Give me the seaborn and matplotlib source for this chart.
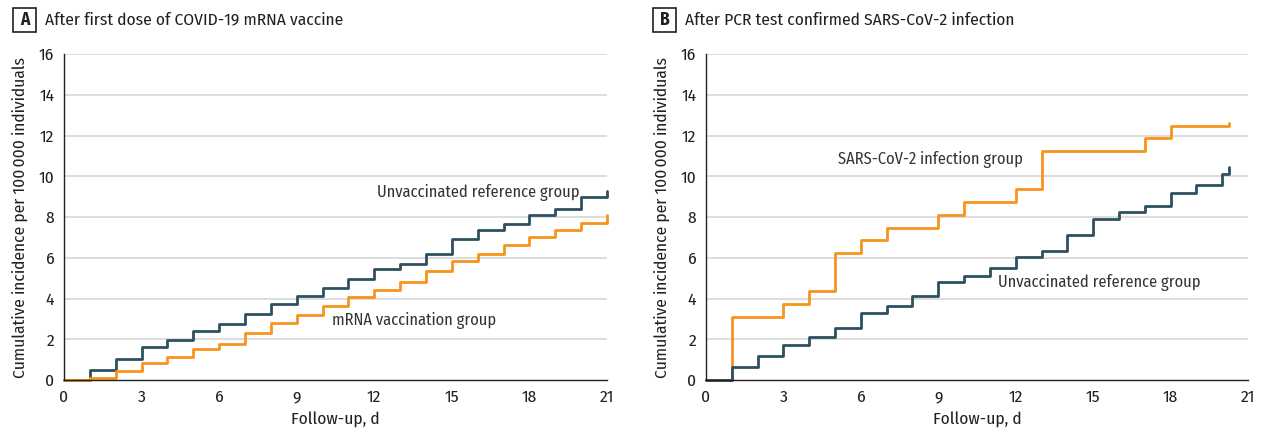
import pandas as pd
import seaborn as sns
import matplotlib.pyplot as plt

# Colours
DARK = "#2d5160"
ORANGE = "#f7941d"
TEXT = "#231f20"

# Panel A: after first dose of mRNA vaccine (step at each day)
days_a = list(range(0, 22))
unvacc_a = [0, 0.49, 1.03, 1.60, 1.98, 2.40, 2.76, 3.22, 3.74, 4.13, 4.51,
            4.98, 5.45, 5.70, 6.17, 6.91, 7.36, 7.66, 8.08, 8.39, 8.98, 9.27]
mrna_a = [0, 0.08, 0.42, 0.82, 1.14, 1.50, 1.78, 2.30, 2.79, 3.20, 3.61,
          4.08, 4.44, 4.82, 5.34, 5.83, 6.20, 6.64, 7.02, 7.36, 7.72, 8.11]

# Panel B: after PCR confirmed infection
days_b = list(range(0, 21)) + [20.25]
infect_b = [0, 3.10, 3.10, 3.74, 4.36, 6.23, 6.85, 7.47, 7.47, 8.09, 8.73,
            8.73, 9.35, 11.23, 11.23, 11.23, 11.23, 11.86, 12.48, 12.48, 12.48, 12.62]
unvacc_b = [0, 0.65, 1.16, 1.72, 2.11, 2.57, 3.30, 3.61, 4.10, 4.82, 5.08,
            5.52, 6.06, 6.34, 7.12, 7.89, 8.24, 8.56, 9.17, 9.56, 10.11, 10.44]

x_ticks = [0, 3, 6, 9, 12, 15, 18, 21]
y_ticks = [0, 2, 4, 6, 8, 10, 12, 14, 16]

sns.set_style("white")
plt.rcParams["font.family"] = ["Fira Sans Condensed", "Asap Condensed", "Lato", "DejaVu Sans"]

W, H = 1262, 432
fig = plt.figure(figsize=(W / 100, H / 100), dpi=100)
ax_a = fig.add_axes([64 / W, 1 - 380 / H, 543 / W, 326 / H])
ax_b = fig.add_axes([706 / W, 1 - 380 / H, 542 / W, 326 / H])


def style_axis(ax):
    ax.set_xlim(0, 21)
    ax.set_ylim(0, 16)
    ax.set_xticks(x_ticks)
    ax.set_yticks(y_ticks)
    for y in y_ticks[1:]:
        ax.axhline(y, color="#dadada", lw=1.3, zorder=0)
    for side in ["top", "right"]:
        ax.spines[side].set_visible(False)
    for side in ["left", "bottom"]:
        ax.spines[side].set_color(TEXT)
        ax.spines[side].set_linewidth(1.0)
    ax.tick_params(axis="both", direction="out", length=4, width=1,
                   color=TEXT, labelsize=12.5, labelcolor=TEXT, pad=3)
    ax.set_xlabel("Follow-up, d", fontsize=12.5, color=TEXT)
    ax.set_ylabel("Cumulative incidence per 100\u2009000 individuals",
                  fontsize=12.5, color=TEXT)
    ax.xaxis.set_label_coords(0.5, -0.095)
    ax.yaxis.set_label_coords(-0.066, 0.5)


df_a = pd.DataFrame({"day": days_a + days_a,
                     "value": unvacc_a + mrna_a,
                     "group": ["Unvaccinated"] * len(days_a) + ["mRNA"] * len(days_a)})
sns.lineplot(data=df_a, x="day", y="value", hue="group",
             palette={"Unvaccinated": DARK, "mRNA": ORANGE},
             drawstyle="steps-post", lw=2, legend=False, ax=ax_a, clip_on=False)
style_axis(ax_a)
ax_a.text(12.1, 9.2, "Unvaccinated reference group", fontsize=11.8,
          color="#333333", va="center", ha="left")
ax_a.text(10.36, 2.9, "mRNA vaccination group", fontsize=11.8,
          color="#333333", va="center", ha="left")

df_b = pd.DataFrame({"day": days_b + days_b,
                     "value": infect_b + unvacc_b,
                     "group": ["Infection"] * len(days_b) + ["Unvaccinated"] * len(days_b)})
sns.lineplot(data=df_b, x="day", y="value", hue="group",
             palette={"Unvaccinated": DARK, "Infection": ORANGE},
             drawstyle="steps-post", lw=2, legend=False, ax=ax_b, clip_on=False)
style_axis(ax_b)
ax_b.text(5.12, 10.8, "SARS-CoV-2 infection group", fontsize=11.8,
          color="#333333", va="center", ha="left")
ax_b.text(11.33, 4.8, "Unvaccinated reference group", fontsize=11.8,
          color="#333333", va="center", ha="left")

# Panel titles with boxed letters
panels = [("A", 13, 45, "After first dose of COVID-19 mRNA vaccine"),
          ("B", 653, 685, "After PCR test confirmed SARS-CoV-2 infection")]
for letter, box_x, text_x, title in panels:
    fig.patches.append(plt.Rectangle((box_x / W, 1 - 32 / H), 23 / W, 24 / H,
                                     transform=fig.transFigure, fill=False,
                                     ec=TEXT, lw=1.2))
    fig.text((box_x + 11.5) / W, 1 - 20 / H, letter, fontsize=12.5, fontweight="bold",
             va="center", ha="center", color=TEXT)
    fig.text(text_x / W, 1 - 20 / H, title, fontsize=12.5, va="center",
             ha="left", color=TEXT)

fig.savefig("out.png", dpi=100)
